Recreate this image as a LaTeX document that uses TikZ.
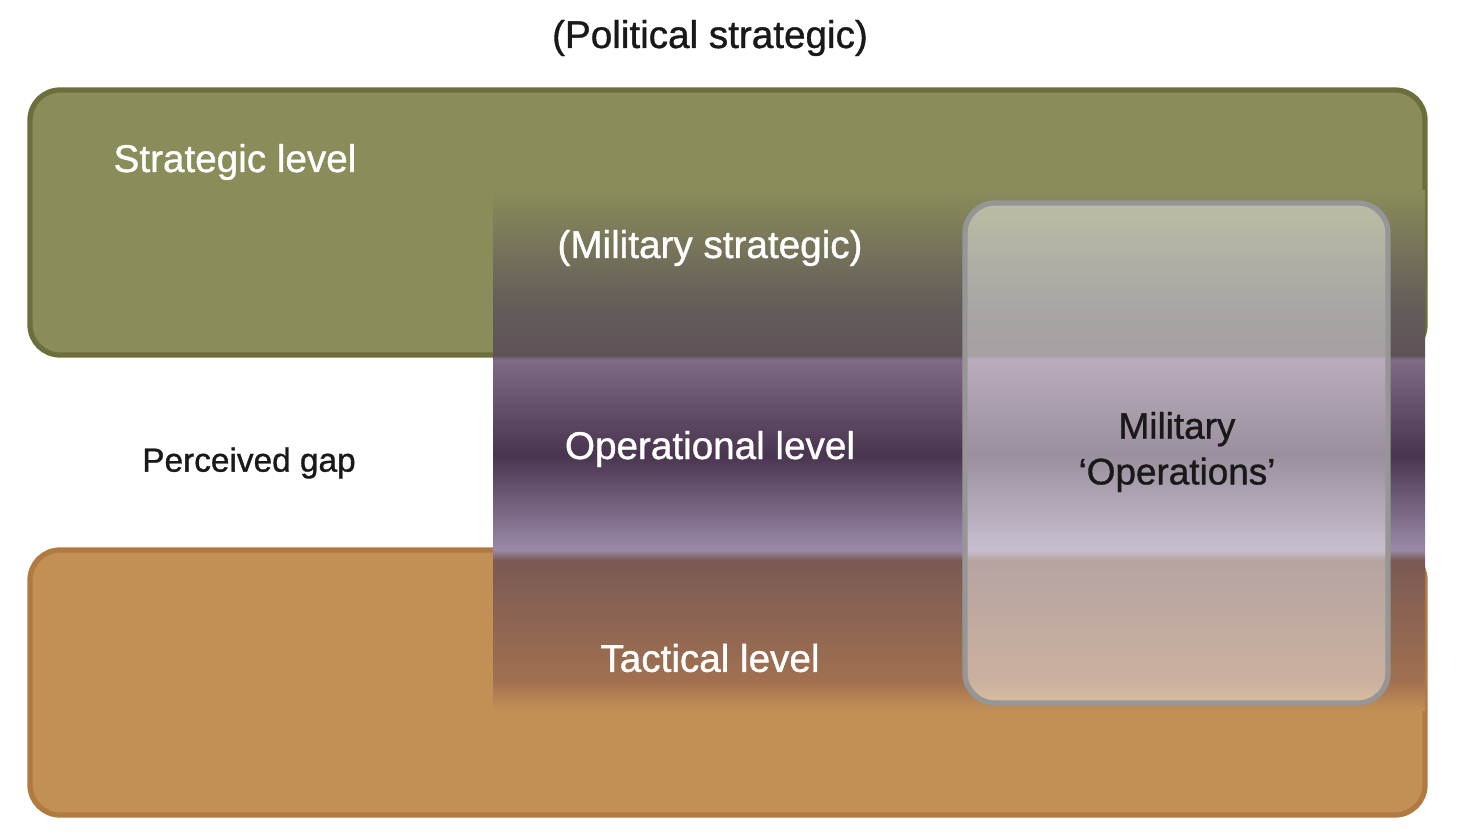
\documentclass[tikz,border=0pt]{standalone}
\usepackage{fontspec}
\setmainfont{Liberation Sans}
\newfontfamily\labelfont{Liberation Sans}[FakeBold=1]
\usetikzlibrary{positioning}
\definecolor{olivebox}{RGB}{138,140,90}
\definecolor{olivedk}{RGB}{108,110,60}
\definecolor{orangebox}{RGB}{194,143,85}
\definecolor{orangedk}{RGB}{178,122,64}
\definecolor{opsgray}{RGB}{150,150,150}
\pgfdeclareverticalshading{levelband}{100bp}{%
  color(0bp)=(orangebox); color(25bp)=(orangebox);
  color(27.9bp)=(rgb,255:red,160;green,112;blue,80);
  color(39.4bp)=(rgb,255:red,122;green,90;blue,85);
  color(40.4bp)=(rgb,255:red,154;green,138;blue,168);
  color(49.5bp)=(rgb,255:red,74;green,53;blue,80);
  color(58.7bp)=(rgb,255:red,128;green,106;blue,133);
  color(59.1bp)=(rgb,255:red,94;green,82;blue,88);
  color(64.4bp)=(rgb,255:red,101;green,94;blue,90);
  color(75bp)=(olivebox); color(100bp)=(olivebox)}
\tikzset{
  levelbox/.style={draw=#1, line width=1.5pt, rounded corners=0.3cm},
  lightlabel/.style={text=white, font=\labelfont\fontsize{11}{13}\selectfont},
  darklabel/.style={text=black!90, font=\labelfont\fontsize{10.5}{13}\selectfont, align=center}
}
\begin{document}
\begin{tikzpicture}
  \useasboundingbox (0,0) rectangle (14.66,8.36);

  % level boxes
  \filldraw[levelbox=olivedk, fill=olivebox] (0.30,4.81) rectangle (14.25,7.46);
  \filldraw[levelbox=orangedk, fill=orangebox] (0.30,0.21) rectangle (14.25,2.86);

  % shaded band
  \shade[shading=levelband] (4.93,1.26) rectangle (14.25,6.46);

  % military operations
  \node[draw=opsgray, line width=1.5pt, fill=white, fill opacity=0.45,
    rounded corners=0.3cm, minimum width=4.23cm, minimum height=5cm]
    (ops) at (11.765,3.83) {};
  \node[darklabel] (ops-text) at (11.77,3.84) {Military\\‘Operations’};

  % labels
  \node[darklabel, font=\labelfont\fontsize{11}{13}\selectfont] (political) at (7.10,7.98) {(Political strategic)};
  \node[lightlabel] (strategic) at (2.35,6.74) {Strategic level};
  \node[lightlabel] (milstrat) at (7.10,5.88) {(Military strategic)};
  \node[darklabel, font=\labelfont\fontsize{9.5}{12}\selectfont] (gap) at (2.49,3.73) {Perceived gap};
  \node[lightlabel] (operational) at (7.10,3.87) {Operational level};
  \node[lightlabel] (tactical) at (7.10,1.78) {Tactical level};
\end{tikzpicture}
\end{document}
